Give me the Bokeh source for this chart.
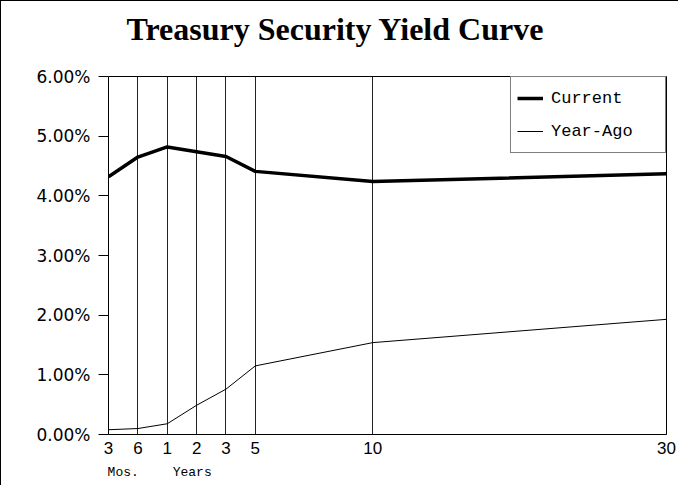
from bokeh.plotting import figure
from bokeh.models import (FixedTicker, PrintfTickFormatter, LinearAxis, Legend,
                          LegendItem, Range1d)
from bokeh.embed import file_html
from bokeh.resources import INLINE

# ---- data ----
maturity_labels = ["3", "6", "1", "2", "3", "5", "10", "30"]
axis_slot = [0, 1, 2, 3, 4, 5, 9, 19]          # position of each maturity on the chart's axis
current = [4.32, 4.65, 4.82, 4.74, 4.66, 4.41, 4.24, 4.37]   # yield, %
year_ago = [0.08, 0.10, 0.18, 0.49, 0.76, 1.15, 1.54, 1.93]  # yield, %
unit_labels = ["Mos.", "Years"]
unit_slots = [0.5, 2.85]
y_ticks = [0, 1, 2, 3, 4, 5, 6]
title_text = "Treasury Security Yield Curve"

p = figure(width=678, height=485, output_backend="svg", toolbar_location=None,
           x_range=Range1d(axis_slot[0], axis_slot[-1]),
           y_range=Range1d(y_ticks[0], y_ticks[-1]),
           min_border_left=107, min_border_right=13, min_border_top=75,
           min_border_bottom=52)
p.styles = {"border-left": "1px solid black", "border-top": "1px solid black"}
p.outline_line_color = "black"
p.outline_line_width = 1

xa = p.below[0]
ya = p.left[0]

# title
p.title.text = title_text
p.title.align = "left"
p.title.offset = 18
p.title.text_font = "Liberation Serif"
p.title.text_font_style = "bold"
p.title.text_font_size = "32px"
p.title.text_color = "black"
p.title.standoff = 4

r1 = p.line(axis_slot, current, line_width=3.5, line_color="black")
r2 = p.line(axis_slot, year_ago, line_width=1, line_color="black")

# grids
p.ygrid.visible = False
p.xgrid.ticker = FixedTicker(ticks=axis_slot)
p.xgrid.grid_line_color = "#222222"
p.xgrid.grid_line_width = 1

# y axis
ya.ticker = FixedTicker(ticks=y_ticks)
ya.formatter = PrintfTickFormatter(format="%.2f%%")
ya.axis_line_color = "black"
ya.major_tick_line_color = "black"
ya.major_tick_out = 10
ya.major_tick_in = 0
ya.minor_tick_line_color = None
ya.major_label_standoff = 8
ya.major_label_text_font = "DejaVu Sans"
ya.major_label_text_font_size = "17px"
ya.major_label_text_color = "black"

# x axis
xa.ticker = FixedTicker(ticks=axis_slot)
xa.major_label_overrides = {s: l for s, l in zip(axis_slot, maturity_labels)}
xa.axis_line_color = "black"
xa.major_tick_line_color = None
xa.major_tick_out = 0
xa.major_tick_in = 0
xa.minor_tick_line_color = None
xa.major_label_standoff = 7
xa.major_label_text_font = "Liberation Sans"
xa.major_label_text_font_size = "17px"
xa.major_label_text_color = "black"

# unit labels under the maturities
ua = LinearAxis(ticker=FixedTicker(ticks=unit_slots),
                major_label_overrides={s: l for s, l in zip(unit_slots, unit_labels)},
                axis_line_color=None, major_tick_line_color=None,
                minor_tick_line_color=None, major_tick_out=0, major_tick_in=0,
                major_label_standoff=8,
                major_label_text_font="Liberation Mono",
                major_label_text_font_size="13px",
                major_label_text_color="black")
p.add_layout(ua, "below")

# blank spacer axis above the frame (pushes the title upward)
spacer = LinearAxis(ticker=FixedTicker(ticks=[axis_slot[0]]),
                    major_label_overrides={axis_slot[0]: ""},
                    axis_line_color=None,
                    major_tick_line_color="white", minor_tick_line_color=None,
                    major_tick_out=28, major_tick_in=0, major_label_standoff=0,
                    major_label_text_font_size="1px")
p.add_layout(spacer, "above")

legend = Legend(items=[LegendItem(label="Current", renderers=[r1]),
                       LegendItem(label="Year-Ago", renderers=[r2])],
                location="top_right", margin=0, padding=6, spacing=3,
                glyph_width=26, glyph_height=30, label_height=30,
                label_width=108, label_standoff=8,
                border_line_color="black", border_line_width=1,
                background_fill_color="white", background_fill_alpha=1,
                label_text_font="Liberation Mono", label_text_font_size="17px",
                label_text_color="black")
p.add_layout(legend)

open("out.html", "w").write(file_html(p, INLINE))
